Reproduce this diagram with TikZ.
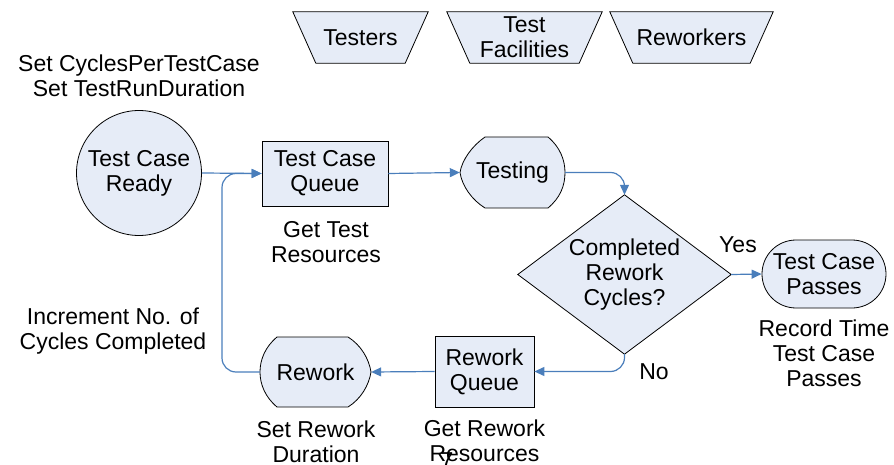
\documentclass[tikz,border=0pt]{standalone}
\usepackage{fontspec}
\setmainfont{Liberation Sans}
\usetikzlibrary{arrows.meta,calc,backgrounds}
\definecolor{fillc}{HTML}{E6ECF7}
\definecolor{linkc}{HTML}{4A7EBB}
\begin{document}
\begin{tikzpicture}[x=1pt,y=-1pt,
  every node/.style={font=\fontsize{23}{25}\selectfont, align=center, inner sep=0pt},
  box/.style={draw=black, fill=fillc, line width=0.8pt},
  outline/.style={draw=black, fill=fillc, line width=0.8pt},
  link/.style={draw=linkc, line width=1.2pt, -{Triangle[length=10pt,width=9pt]}, rounded corners=14pt}
]
\useasboundingbox (0,0) rectangle (894,465);

% resources (trapezia)
\node[minimum width=135pt, minimum height=51pt] (testers) at (360.5,37.5) {Testers};
\node[minimum width=155pt, minimum height=51pt] (facil) at (524.5,37.5) {Test\\Facilities};
\node[minimum width=163pt, minimum height=51pt] (reworkers) at (691.5,37.5) {Reworkers};

% main nodes
\node[circle, box, minimum size=125pt] (ready) at (139,173) {Test Case\\Ready};
\node[box, minimum width=126pt, minimum height=65pt] (tcq) at (325,173.5) {Test Case\\Queue};
\node[minimum width=105pt, minimum height=71pt] (testing) at (512.5,172.5) {Testing};
\node[minimum width=213pt, minimum height=159pt] (dec) at (624.5,274.5) {Completed\\Rework\\Cycles?};
\node[box, rounded corners=34pt, minimum width=124pt, minimum height=68pt] (passes) at (824,274) {Test Case\\Passes};
\node[box, minimum width=99pt, minimum height=71pt] (rwq) at (484.5,371.5) {Rework\\Queue};
\node[minimum width=111pt, minimum height=70pt] (rework) at (315.5,372) {Rework};

\begin{pgfonlayer}{background}
  \foreach \n in {testers,facil,reworkers}{
    \path[outline] (\n.north west) -- (\n.north east) -- ($(\n.south east)+(-23,0)$) -- ($(\n.south west)+(23,0)$) -- cycle;
  }
  \path[outline] (dec.north) -- (dec.east) -- (dec.south) -- (dec.west) -- cycle;
  % Testing: pointed left, rounded right
  \path[outline] (485,137) -- (548,137) .. controls (560,147) and (565,160) .. (565,172.5)
     .. controls (565,186) and (560,198) .. (548,208) -- (485,208)
     .. controls (472,200) and (462,186) .. (460,172.5)
     .. controls (462,160) and (472,146) .. (485,137) -- cycle;
  % Rework: rounded left, pointed right
  \path[outline] (277,337) -- (348,337) .. controls (361,345) and (369,359) .. (371,372)
     .. controls (369,385) and (361,399) .. (348,407) -- (277,407)
     .. controls (265,397) and (260,384) .. (260,372)
     .. controls (260,360) and (265,347) .. (277,337) -- cycle;
\end{pgfonlayer}

% labels
\node (lblset) at (139,76) {Set CyclesPerTestCase\\Set TestRunDuration};
\node (lblget) at (326,242) {Get Test\\Resources};
\node (lblinc) at (113,331) {Increment No. of\\Cycles Completed};
\node (lblrec) at (824,353) {Record Time\\Test Case\\Passes};
\node (lblsrd) at (316,442) {Set Rework\\Duration};
\node (lblgrr) at (484.5,441) {Get Rework\\Resources};
\node (lblseven) at (447,461) {7};
\node (lblyes) at (738,245) {Yes};
\node (lblno) at (654,372) {No};

% connectors
\coordinate (loop) at (222,0);
\draw[link] (ready.east) -- (tcq.west);
\draw[link] (rework.west) -- (rework.west -| loop) -- (loop |- tcq.west) -- (tcq.west);
\draw[link] (tcq.east) -- (testing.west);
\draw[link] (testing.east) -| (dec.north);
\draw[link] (dec.east) -- (passes.west);
\draw[link] (dec.south) |- (rwq.east);
\draw[link] (rwq.west) -- (rework.east);
\end{tikzpicture}
\end{document}
